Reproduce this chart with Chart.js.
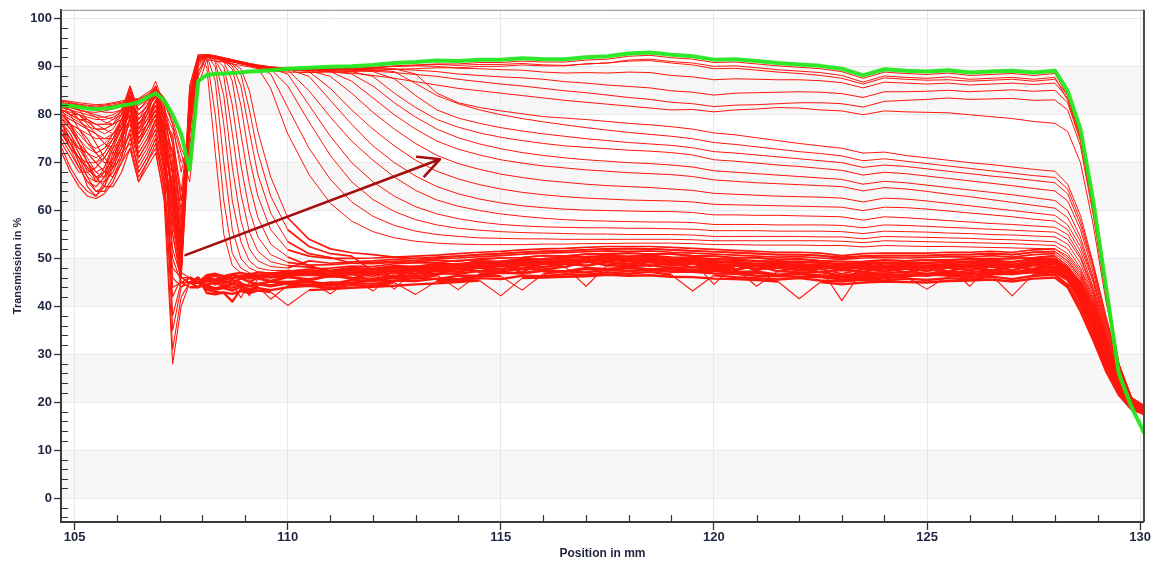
<!DOCTYPE html>
<html>
<head>
<meta charset="utf-8">
<title>Transmission vs position</title>
<script src="https://cdn.jsdelivr.net/npm/chart.js"></script>
<style>
  html, body { margin: 0; padding: 0; background: #fff; }
  canvas { display: block; }
</style>
</head>
<body>
<canvas id="tchart" width="1151" height="563"></canvas>
<script>
// sample positions in mm, shared by every trace
const positions = [104.7, 104.9, 105.1, 105.3, 105.5, 105.7, 105.9, 106.1, 106.3, 106.5, 106.7, 106.9, 107.1, 107.3, 107.5, 107.7, 107.9,
  108.1, 108.3, 108.5, 108.7, 108.9, 109.1, 109.3, 109.6, 110, 110.5, 111, 111.5, 112, 112.5, 113, 113.5, 114, 114.5, 115, 115.5, 116, 116.5,
  117, 117.5, 118, 118.5, 119, 119.5, 120, 120.5, 121, 121.5, 122, 122.5, 123, 123.5, 124, 124.5, 125, 125.5, 126, 126.5, 127, 127.5, 128,
  128.3, 128.6, 128.9, 129.2, 129.5, 129.8, 130.1];

// final scan (green)
const greenTrace = [82, 81.8, 81.6, 81.3, 81.2, 81.3, 81.5, 81.9, 82.2, 82.6, 83.6, 84.5, 83, 80, 76, 68.5, 87,
  88.3, 88.5, 88.6, 88.7, 88.8, 89, 89.1, 89.3, 89.6, 89.8, 90, 90.1, 90.4, 90.8, 91, 91.3, 91.2, 91.5, 91.5, 91.8, 91.6, 91.6, 92, 92.2, 92.8, 93, 92.5, 92.2, 91.5, 91.6, 91.2, 90.8, 90.5, 90.2, 89.6, 88.2, 89.5, 89.2, 89, 89.3, 88.8, 89, 89.2, 88.8, 89.2,
  85, 77, 62, 44, 26, 19, 13.5];

// late scans hugging the top
const top1 = [82.5, 82.3, 82, 81.8, 81.6, 81.8, 82, 82.4, 82.8, 83, 84, 85, 82.5, 78, 72, 66, 86,
  91.5, 91.2, 91, 90.6, 90.3, 90, 89.6, 89.4, 89.3, 89.3, 89.4, 89.5, 89.8, 90.2, 90.4, 90.6, 90.6, 90.9, 90.9, 91.2, 91, 91, 91.4, 91.6, 92.2, 92.4, 91.9, 91.6, 90.9, 91, 90.6, 90.2, 89.9, 89.6, 89, 87.6, 88.9, 88.6, 88.4, 88.7, 88.2, 88.4, 88.6, 88.2, 88.6,
  84, 76, 61, 44, 28, 20, 17];
const top2 = [82, 81.5, 81, 80.6, 80.5, 80.8, 81.2, 81.8, 83, 82, 83, 84, 82, 74, 62, 72, 89,
  92, 91.8, 91.4, 91, 90.6, 90.2, 89.8, 89.2, 88.9, 88.8, 88.9, 89, 89.2, 89.5, 89.6, 89.8, 89.8, 90.1, 90.1, 90.4, 90.2, 90.2, 90.6, 90.8, 91.4, 91.6, 91.1, 90.8, 90.1, 90.2, 89.8, 89.4, 89.1, 88.8, 88.2, 86.8, 88.1, 87.8, 87.6, 87.9, 87.4, 87.6, 87.8, 87.4, 87.8,
  83, 75, 60, 43, 28, 20, 17.5];

const upper1 = [82.2, 82, 81.7, 81.5, 81.3, 81.5, 81.8, 82.2, 82.6, 82.8, 83.8, 84.8, 82.8, 79, 73, 69, 88,
  92.2, 92, 91.6, 91.2, 90.8, 90.4, 90.1, 89.8, 89.5, 89.4, 89.5, 89.6, 89.8, 90.1, 90.3, 90.5, 90.3, 90.5, 90.5, 90.7, 90.4, 90.3, 90.6, 90.8, 91.2, 91.3, 90.8, 90.4, 89.6, 89.7, 89.3, 88.9, 88.6, 88.2, 87.6, 86.4, 87.7, 87.4, 87.2, 87.3, 87, 87.2, 87.4, 87, 87.4,
  84, 76, 61, 43.5, 28, 20.5, 17.5];
const upper2 = [82.8, 82.5, 82.2, 82, 81.8, 82, 82.3, 82.6, 83, 83.2, 84.2, 85.3, 83.4, 80, 75, 71, 89,
  92.4, 92.1, 91.7, 91.3, 90.9, 90.5, 90.2, 89.9, 89.6, 89.5, 89.6, 89.7, 89.9, 90.1, 90.2, 90.1, 89.7, 89.6, 89.4, 89.3, 88.9, 88.7, 88.8, 88.7, 88.9, 88.8, 88.2, 87.9, 87.3, 87.5, 87.4, 87.3, 87.3, 87.1, 86.7, 85.6, 86.8, 86.6, 86.4, 86.6, 86.2, 86.4, 86.6, 86.3, 86.6,
  83.5, 75.5, 60.5, 43, 28, 20.5, 17.8];
const upper3 = [81.5, 81, 80.5, 80, 79.5, 79.5, 80, 81, 84, 81, 82.5, 84, 81, 77, 70, 73, 90,
  92.5, 92.2, 91.8, 91.4, 91, 90.6, 90.3, 90, 89.7, 89.6, 89.6, 89.6, 89.6, 89.5, 89.3, 89, 88.5, 88.2, 87.9, 87.7, 87.4, 86.9, 86.6, 86.2, 85.9, 85.6, 85, 84.7, 84.1, 84.5, 84.6, 84.7, 84.8, 84.7, 84.4, 83.6, 84.8, 84.8, 84.9, 85.1, 84.8, 85, 85.2, 84.9, 85.1,
  82.5, 74.5, 60, 42.5, 28, 20.8, 18];
const upper4 = [83, 82.8, 82.5, 82.3, 82.1, 82.2, 82.5, 82.9, 83.2, 83.4, 84.6, 85.6, 83.6, 78, 68, 76, 90.5,
  92.6, 92.3, 91.9, 91.5, 91.1, 90.7, 90.4, 90, 89.7, 89.5, 89.4, 89.3, 89.1, 88.8, 88.4, 88, 87.4, 86.9, 86.4, 86, 85.5, 85, 84.6, 84.1, 83.6, 83.2, 82.6, 82.3, 81.7, 82, 82.1, 82.3, 82.5, 82.5, 82.3, 81.6, 82.8, 83, 83.2, 83.5, 83.2, 83.3, 83.4, 83, 83.1,
  81, 73.5, 59, 42, 28, 21, 18.2];
const upper5 = [81, 80.5, 80, 79.5, 79, 79, 79.5, 80.5, 83, 80, 81.5, 83.5, 80, 75, 64, 79, 91,
  92.6, 92.3, 91.9, 91.5, 91.1, 90.7, 90.3, 89.9, 89.5, 89.2, 89, 88.7, 88.2, 87.6, 86.9, 86.2, 85.5, 85, 84.5, 84, 83.5, 83, 82.6, 82.2, 81.8, 81.4, 81, 81.1, 80.6, 81, 81.2, 81.5, 81.4, 81, 80.8, 80, 80.8, 80.6, 80.5, 80.4, 80, 79.6, 79.2, 78.6, 78.2,
  76.5, 70, 57, 41, 28, 21, 18.5];

// intermediate scans, long sloping decay
const slope1 = [82, 81.5, 81, 80.5, 80, 79.5, 79, 80, 84, 79, 81, 84, 79, 72, 60, 80, 91.5,
  92.4, 92, 91.6, 91.2, 90.8, 90.4, 90.1, 89.8, 89.5, 89.4, 89.4, 89.5, 89.6, 89.6, 88.5, 84.5, 82.5, 81.5, 80.8, 80.2, 79.6, 79.3, 79, 78.6, 78.2, 77.9, 77.5, 77, 76.2, 75.8, 75.2, 74.6, 74, 73.5, 73, 72, 72.2, 71.5, 71, 70.5, 70, 69.6, 69.1, 68.6, 68.2,
  65.5, 59, 49, 38, 28, 21, 18];
const slope2 = [80, 78, 76, 74, 73, 74, 76, 79, 83, 78, 80, 83, 77, 68, 55, 81, 92,
  92.5, 92.1, 91.7, 91.3, 90.9, 90.5, 90.2, 89.9, 89.6, 89.5, 89.5, 89.5, 89.4, 89, 86.5, 84, 82.3, 81, 80, 79.2, 78.5, 77.9, 77.3, 76.8, 76.3, 75.9, 75.5, 75, 74.2, 73.8, 73.3, 72.8, 72.3, 71.9, 71.4, 70.4, 70.8, 70.3, 69.8, 69.3, 68.8, 68.3, 67.8, 67.3, 66.9,
  64.5, 58, 48.5, 37.5, 28, 21, 18.2];
const slope3 = [82.5, 82, 81, 79, 77, 76, 77, 80, 86, 80, 82, 85, 80, 74, 58, 79, 91.5,
  92.3, 91.9, 91.5, 91.1, 90.7, 90.3, 90, 89.7, 89.4, 89.3, 89.3, 89.3, 89, 87.5, 84, 81, 79.3, 78.2, 77.3, 76.6, 76, 75.5, 75, 74.6, 74.2, 73.9, 73.6, 73.1, 72.3, 72, 71.6, 71.2, 70.8, 70.4, 70, 69, 69.5, 69.2, 68.7, 68.2, 67.7, 67.2, 66.8, 66.3, 65.8,
  63.5, 57, 48, 37, 27.5, 21, 18];
const slope4 = [79, 77, 74, 72, 71, 72, 75, 79, 82, 75, 78, 81, 73, 65, 52, 82, 92,
  92.4, 92, 91.6, 91.2, 90.8, 90.4, 90.1, 89.8, 89.5, 89.3, 89.2, 89, 88, 84.5, 81.5, 79, 77.4, 76.2, 75.3, 74.6, 74, 73.5, 73.2, 72.9, 72.6, 72.4, 72.1, 71.6, 70.6, 70.3, 69.9, 69.5, 69.2, 68.8, 68.4, 67.4, 68, 67.7, 67.2, 66.7, 66.2, 65.7, 65.2, 64.6, 64.1,
  62, 56, 47, 36.5, 27.5, 20.8, 18.3];
const slope5 = [81.5, 81, 80, 78.5, 77, 77, 78, 81, 85, 81, 83, 86, 81, 70, 54, 80, 91.5,
  92.3, 91.9, 91.5, 91.1, 90.7, 90.3, 90, 89.7, 89.4, 89.2, 89, 88.5, 86, 82.5, 79.5, 77, 75.2, 73.9, 72.9, 72.1, 71.5, 71, 70.6, 70.3, 70, 69.8, 69.5, 69.1, 68.3, 68, 67.7, 67.4, 67.1, 66.8, 66.5, 65.5, 66.1, 65.8, 65.3, 64.8, 64.3, 63.8, 63.3, 62.7, 62.1,
  60, 54.5, 46, 36, 27, 20.7, 18.1];
const slope6 = [80, 79, 78, 77, 76, 75, 75, 77, 80, 74, 77, 80, 72, 66, 51, 83, 92,
  92.4, 92, 91.6, 91.2, 90.8, 90.4, 90.1, 89.8, 89.5, 89.3, 89, 87, 83.5, 80, 77, 74.5, 72.8, 71.6, 70.6, 69.9, 69.3, 68.9, 68.5, 68.2, 67.9, 67.7, 67.5, 67.1, 66.4, 66.1, 65.8, 65.6, 65.4, 65.2, 65, 64.1, 64.8, 64.5, 64, 63.4, 62.9, 62.3, 61.7, 61.1, 60.5,
  58.5, 53.5, 45.5, 35.5, 27, 20.5, 18.4];
const slope7 = [83, 82.5, 82, 81.5, 81, 80.5, 80.5, 81, 82, 78, 80, 82, 78, 76, 62, 78, 91.5,
  92.5, 92.1, 91.7, 91.3, 90.9, 90.5, 90.2, 89.9, 89.5, 89.2, 88, 84.5, 80.5, 77, 74, 71.5, 69.8, 68.6, 67.6, 66.9, 66.3, 65.9, 65.5, 65.2, 65, 64.8, 64.5, 64.2, 63.6, 63.4, 63.2, 63, 62.9, 62.8, 62.6, 61.8, 62.6, 62.4, 62, 61.5, 61, 60.5, 60, 59.5, 59,
  57, 52.5, 45, 35, 26.5, 20.5, 18.2];
const slope8 = [78, 75, 72, 69, 67, 68, 71, 76, 81, 75, 78, 82, 75, 63, 50, 81, 92,
  92.3, 91.9, 91.5, 91.1, 90.7, 90.3, 90, 89.7, 89.4, 89, 85.5, 81, 77, 73.5, 70.5, 68.2, 66.6, 65.4, 64.5, 63.8, 63.3, 62.9, 62.6, 62.4, 62.2, 62.1, 62, 61.8, 61.3, 61.2, 61.1, 61, 60.9, 60.8, 60.7, 60, 60.7, 60.6, 60.3, 59.9, 59.5, 59.1, 58.7, 58.2, 57.8,
  56, 51.5, 44, 34.5, 26, 20.3, 18.5];
const slope9 = [81, 80, 79, 78.5, 78, 78, 79, 81, 86, 81, 83, 87, 82, 68, 53, 82, 92,
  92.4, 92, 91.6, 91.2, 90.8, 90.4, 90.1, 89.8, 89.5, 88, 83, 78, 73.5, 70, 67.2, 65, 63.5, 62.4, 61.6, 61, 60.6, 60.3, 60.1, 60, 59.9, 59.8, 59.8, 59.6, 59.1, 59.1, 59, 59, 58.9, 58.8, 58.7, 58, 58.7, 58.5, 58.2, 57.9, 57.6, 57.3, 57.1, 56.8, 56.5,
  55, 50.5, 43.5, 34, 26, 20.2, 18.2];
const slope10 = [79.5, 77.5, 75, 73, 72, 73, 76, 79, 84, 78, 81, 84, 77, 64, 49, 80, 91.5,
  92.5, 92.1, 91.7, 91.3, 90.9, 90.5, 90.2, 89.9, 89.3, 85, 79.5, 74.5, 70.5, 67, 64.2, 62.2, 60.9, 60, 59.3, 58.8, 58.4, 58.1, 57.9, 57.8, 57.7, 57.6, 57.6, 57.5, 57.1, 57.1, 57.1, 57, 57, 57, 56.9, 56.4, 57, 56.9, 56.7, 56.5, 56.3, 56.1, 55.9, 55.7, 55.5,
  54, 50, 43, 34, 26, 20.3, 18.6];
const slope11 = [82, 81.5, 81, 80.5, 79.5, 78.5, 78, 79, 81, 76, 78, 81, 74, 73, 57, 84, 92,
  92.3, 91.9, 91.5, 91.1, 90.7, 90.3, 90, 89.6, 88.5, 82, 75.5, 70, 66, 63, 60.8, 59.3, 58.3, 57.6, 57.1, 56.8, 56.6, 56.5, 56.4, 56.4, 56.3, 56.3, 56.2, 56.1, 55.8, 55.8, 55.8, 55.7, 55.7, 55.7, 55.6, 55.2, 55.7, 55.6, 55.5, 55.3, 55.2, 55, 54.9, 54.7, 54.5,
  53, 49, 42.5, 33.5, 25.5, 20, 18.3];
const slope12 = [77, 74, 71, 68.5, 67, 68, 71, 75, 79, 72, 75, 79, 69, 61, 48, 79, 91.5,
  92.4, 92, 91.6, 91.2, 90.8, 90.4, 90.1, 89.5, 86, 78.5, 71.5, 66, 62.3, 59.8, 58.1, 57, 56.3, 55.9, 55.6, 55.4, 55.3, 55.2, 55.1, 55.1, 55, 55, 55, 54.9, 54.6, 54.6, 54.6, 54.6, 54.6, 54.5, 54.5, 54.1, 54.6, 54.5, 54.4, 54.3, 54.2, 54, 53.9, 53.7, 53.5,
  52, 48, 42, 33, 25.5, 20, 18.5];
const slope13 = [80.5, 79.5, 78.5, 77.5, 77, 77, 78, 80, 84, 79, 81, 84, 79, 67, 52, 83, 92,
  92.3, 91.9, 91.5, 91.1, 90.7, 90.3, 90, 88.5, 81.5, 73, 66.5, 61.8, 58.8, 56.9, 55.7, 55, 54.6, 54.3, 54.2, 54.1, 54.1, 54, 54, 54, 54, 54, 54, 53.9, 53.7, 53.7, 53.7, 53.7, 53.7, 53.7, 53.6, 53.3, 53.7, 53.6, 53.5, 53.4, 53.3, 53.2, 53.1, 52.9, 52.7,
  51, 47.5, 41.5, 33, 25, 20, 18.2];
const slope14 = [78.5, 76, 73, 70, 68, 69, 73, 77, 82, 76, 79, 83, 76, 62, 47, 81, 92,
  92.5, 92.1, 91.7, 91.3, 90.9, 90.5, 89.8, 85.5, 76, 67.5, 61.5, 57.8, 55.6, 54.3, 53.6, 53.2, 53, 52.9, 52.9, 52.9, 53, 53, 53.1, 53.1, 53.2, 53.2, 53.2, 53.1, 52.9, 52.9, 52.8, 52.8, 52.8, 52.7, 52.7, 52.4, 52.7, 52.6, 52.5, 52.5, 52.4, 52.3, 52.2, 52.1, 52,
  50.5, 47, 41, 32.5, 25, 19.8, 18.4];

// early scans, steep front just behind the edge
const front1 = [79, 77, 74, 71, 68, 67, 69, 73, 79, 71, 74, 79, 70, 62, 48, 78, 91.5,
  90, 72, 55, 48.5, 47, 46.5, 46.5, 46.5, 47,
  47, 47.4, 47.1, 47.8, 47.9, 48.4, 47.9, 48.5, 48.9, 49.4, 49.1, 49.8, 49.4, 50, 50.4, 49.9, 50.3, 49.6, 49.9, 49.3, 49.4, 48.9, 49.2, 49, 48.3, 48.5, 48.2, 48.9, 48.7, 48.9, 48.6, 48.9, 49.3, 48.7, 49.5, 49.5,
  47.5, 43.5, 37.5, 30.5, 24, 20, 18.5];
const front2 = [80, 79, 78, 77, 76, 74, 72, 72, 76, 68, 71, 75, 67, 58, 47, 82, 92,
  92, 80, 62, 51, 48, 47, 46.5, 46.8, 47,
  47, 46.2, 46.6, 46.3, 47.1, 46.8, 47.5, 47.3, 48.2, 47.7, 48.6, 48.2, 48.9, 48.5, 49.3, 48.7, 49.2, 48.5, 48.9, 48, 48.5, 47.7, 48.1, 47.5, 47.9, 46.8, 47.8, 47.3, 47.9, 47.4, 48.1, 47.5, 48.3, 47.6, 48.6, 48.2,
  46.5, 42.5, 36.5, 29.5, 23, 19.5, 18];
const front3 = [77, 73, 69, 66, 64, 65, 70, 75, 83, 74, 78, 82, 74, 55, 46, 76, 91,
  92.5, 87, 70, 56, 50, 48, 47.2, 47, 47.3,
  47.8, 48, 48.4, 48.3, 48.9, 49.1, 49.1, 49.6, 49.7, 50.1, 50.2, 50.6, 50.5, 50.9, 51, 51.1, 50.9, 50.9, 50.5, 50.5, 50.1, 50.1, 49.7, 49.9, 49.5, 49.3, 49.4, 49.7, 49.5, 49.7, 49.7, 49.9, 50, 49.9, 50.2, 50.6,
  48.5, 45, 39.5, 32, 25, 20.5, 19];
const front4 = [81, 80, 80, 79, 78, 77, 76, 77, 80, 73, 76, 80, 72, 66, 49, 84, 92.5,
  92.5, 90, 78, 62, 53.5, 49.5, 48, 47.5, 47.5,
  46.8, 46.3, 46.9, 45.2, 47.3, 47.4, 46.5, 48, 48.2, 48.6, 47.2, 49, 49.1, 49.3, 49.5, 48.6, 49.5, 49.3, 49.1, 48.9, 47.5, 48.5, 48.3, 48.2, 48.1, 45.2, 48, 48.1, 48.1, 46.4, 48.3, 48.4, 48.5, 48.2, 48.8, 49,
  47, 43, 37, 30, 23.5, 19.5, 18.2];
const front5 = [78, 76, 72, 68, 66, 68, 73, 78, 85, 77, 80, 85, 77, 60, 47, 80, 92,
  92.3, 91, 84, 69, 58, 52, 49.5, 48.3, 48,
  49.5, 49, 49.3, 49.5, 49.8, 50, 50.2, 50.5, 50.8, 51, 51.3, 51.5, 51.6, 51.8, 52, 52, 52, 51.8, 51.6, 51.4, 51.2, 51, 50.8, 50.8, 50.6, 50.3, 50.5, 50.6, 50.6, 50.6, 50.8, 50.8, 51, 50.8, 51.3, 51.5,
  49.5, 46, 40.5, 33, 25.5, 21, 19.2];
const front6 = [82, 81, 80, 78, 76, 74, 73, 75, 78, 71, 74, 77, 69, 70, 50, 85, 92,
  92.2, 91.5, 88, 76, 63.5, 55.5, 51.5, 49.3, 48.5,
  48.2, 47.5, 48.1, 47.9, 48.5, 48.3, 49, 48.8, 49.5, 49.3, 50, 49.8, 50.3, 50.1, 50.7, 50.3, 50.6, 50.1, 50.3, 49.7, 49.9, 49.3, 49.5, 49.1, 49.3, 48.6, 49.2, 48.9, 49.3, 48.9, 49.4, 49.1, 49.6, 49.2, 49.9, 49.8,
  48, 44, 38, 31, 24, 20, 18.6];
const front7 = [76, 73, 71, 70, 70, 72, 75, 78, 82, 75, 78, 81, 73, 57, 46, 78, 91.5,
  92.4, 91.6, 90, 82, 69.5, 60, 54.5, 50.8, 49.2,
  48.6, 48.7, 49, 49.2, 49.4, 49.6, 49.9, 50.1, 50.4, 50.6, 50.9, 51.1, 51.2, 51.4, 51.6, 51.5, 51.6, 51.3, 51.1, 50.9, 50.7, 50.5, 50.3, 50.4, 50.1, 49.8, 50.1, 50.2, 50.1, 50.2, 50.4, 50.3, 50.6, 50.3, 50.8, 51,
  49, 45.5, 40, 32.5, 25, 20.5, 19];
const front8 = [80, 78, 75, 72, 70, 71, 74, 77, 84, 78, 81, 86, 79, 64, 48, 83, 92,
  92.3, 91.8, 91, 87, 76, 65.5, 58.5, 53, 50.3,
  48.5, 47.2, 47.6, 47.2, 48, 47.6, 48.5, 48.2, 49, 48.6, 49.5, 49.2, 49.7, 49.4, 50.1, 49.6, 50, 49.5, 49.7, 49, 49.3, 48.6, 48.9, 48.5, 48.7, 48, 48.6, 48.3, 48.7, 48.3, 48.9, 48.5, 49.1, 48.6, 49.4, 49.2,
  47.5, 43.5, 37.5, 30.5, 23.5, 19.8, 18.3];
const front9 = [79, 78, 77, 76, 75, 75, 76, 78, 80, 74, 77, 80, 71, 68, 52, 86, 92.5,
  92.5, 92, 91.2, 89.5, 82, 71, 63, 56, 51.8,
  50.5, 50, 50, 50.1, 50.3, 50.5, 50.7, 51, 51.3, 51.5, 51.8, 52, 52.1, 52.3, 52.5, 52.5, 52.5, 52.3, 52.1, 51.9, 51.7, 51.5, 51.3, 51.3, 51.1, 50.6, 51, 51.1, 51.1, 51.1, 51.3, 51.3, 51.5, 51.3, 51.8, 52,
  50, 46.5, 41, 33.5, 26, 21, 19.3];
const front10 = [82, 80, 77, 74, 72, 73, 75, 79, 83, 76, 79, 83, 75, 63, 49, 82, 92,
  92.2, 91.8, 91.2, 90.2, 86, 76.5, 67.5, 59.5, 53.5,
  51, 50.2, 49, 48.9, 49.2, 49.3, 49.6, 49.4, 50, 50.1, 50.2, 50.6, 50.5, 50.9, 50.8, 51.1, 50.9, 51, 50.6, 50.5, 50.2, 50.2, 49.8, 49.9, 49.5, 49.4, 49.2, 49.6, 49.5, 49.7, 49.6, 49.9, 49.7, 50.1, 50.1, 50.5,
  48.5, 44.5, 39, 31.5, 24.5, 20.2, 18.7];
const front11 = [78, 74, 70, 67, 66, 69, 74, 79, 85, 79, 82, 86, 80, 59, 47, 80, 92,
  92.4, 92, 91.4, 90.6, 88.5, 81, 72, 63, 56,
  52.5, 51, 50.5, 47.3, 47.4, 47.9, 47.5, 48.4, 48.5, 48.8, 47, 49.4, 49.3, 49.7, 49.8, 49.6, 50, 49.8, 49.2, 49.5, 49, 47.4, 48.9, 48.6, 48.5, 48.4, 48.1, 48.2, 48.5, 48.2, 48.5, 48.7, 48.6, 48.8, 48.6, 49.3,
  47, 43, 37, 30, 23.5, 19.6, 18.1];
const front12 = [81, 80, 79, 79, 78, 78, 78, 79, 81, 77, 79, 82, 76, 72, 55, 86, 92.5,
  92.3, 91.9, 91.3, 90.7, 89.6, 85, 76.5, 67, 58.5,
  54, 52, 51.2, 50.8, 50.3, 50, 50.3, 50.5, 50.8, 51, 51.3, 51.5, 51.6, 51.8, 52, 52.1, 52, 51.8, 51.6, 51.4, 51.2, 51, 50.8, 50.8, 50.6, 50, 50.5, 50.6, 50.6, 50.6, 50.8, 50.8, 51, 50.8, 51.3, 51.4,
  49.5, 46, 40.5, 33, 25.5, 20.8, 19];

// first scans, collapsed to the low plateau
const band1 = [73, 69, 66, 64, 63, 65, 69, 73, 76, 68, 71, 75, 64, 48, 46, 46, 45,
  44.5, 43.5, 44.2, 44.6, 44.8, 44.2, 44.7, 44.4, 45,
  45.2, 44.6, 45.5, 45.3, 46, 45.8, 46.5, 43.5, 46.8, 47.2, 46.9, 47.6, 47.3, 48, 47.8, 48.2, 47.7, 48, 47.6, 47.8, 47.2, 47.3, 46.6, 46.9, 46.5, 46.2, 46.8, 46.4, 46.7, 46.4, 47, 46.6, 47.2, 46.7, 47.4, 47.6,
  46, 42, 36, 29, 23, 19.5, 18];
const band2 = [76, 74, 71, 67, 64, 64, 67, 71, 80, 72, 75, 79, 70, 35, 44, 46, 45,
  45.2, 45.6, 44.8, 45.5, 45, 42.2, 45.8, 45.3, 46.1,
  45.7, 46.3, 46, 43.2, 47, 46.8, 47.5, 47.2, 48.1, 47.7, 48.6, 48.2, 48.9, 48.5, 49.2, 48.8, 49.3, 48.6, 48.9, 48.2, 48.5, 47.8, 48.1, 47.6, 47.9, 41.2, 47.8, 47.3, 47.9, 47.4, 48.1, 47.6, 48.3, 47.5, 48.6, 48.3,
  47, 44, 38, 31, 24, 20, 18.5];
const band3 = [79, 77, 74, 70, 66, 66, 68, 72, 74, 67, 70, 73, 62, 28, 40, 45, 46,
  43.5, 43, 42.8, 41, 43.6, 43.2, 43.8, 43.4, 44,
  44.3, 43.8, 44.5, 44.2, 45, 42.5, 45.3, 45.4, 45.9, 45.7, 46.4, 46.3, 46.7, 46.6, 47.1, 46.8, 47.2, 46.6, 43.2, 46.5, 46.1, 45.9, 45.6, 45.9, 45.4, 45.2, 45.6, 45.4, 45.8, 45.5, 45.9, 45.6, 46.2, 45.7, 46.4, 46.6,
  44.5, 40, 34, 27, 22, 19, 17.5];
const band4 = [80, 78, 77, 75, 72, 70, 70, 73, 84, 76, 80, 85, 75, 55, 45, 45, 44,
  46, 46.4, 45.7, 46.5, 46.2, 46.8, 46.3, 46.9, 46.6,
  47.2, 46.8, 47.5, 47.2, 48, 47.7, 48.4, 48.3, 48.9, 48.8, 49.5, 49.3, 49.8, 49.6, 50.1, 49.8, 50.1, 49.6, 49.8, 49.2, 49.4, 48.8, 49, 48.6, 48.8, 48.1, 48.7, 48.4, 48.8, 48.4, 48.9, 48.6, 49.2, 48.6, 49.4, 49.6,
  47.5, 44.5, 39, 32, 25, 20.5, 19];
const band5 = [72, 68, 65, 63, 62.5, 63.5, 66, 70, 73, 66, 69, 72, 63, 42, 46, 45, 45,
  44, 43.5, 43.8, 43.3, 44.1, 43.6, 44.2, 41.5, 44.4,
  44.6, 44.3, 44.9, 44.7, 45.4, 45.3, 45.8, 45.7, 46.4, 46.3, 43.4, 46.8, 47.3, 47.1, 47.6, 47.4, 47.6, 47.2, 47.2, 46.9, 46.8, 46.4, 46.3, 46.2, 46.1, 45.6, 46, 45.9, 46.2, 43.6, 46.4, 46.1, 46.6, 42.2, 46.8, 47.1,
  45.5, 41, 35, 28, 22.5, 19, 18];
const band6 = [82, 81, 79, 77, 74, 71, 69, 71, 77, 70, 73, 77, 68, 60, 47, 46, 45,
  45.8, 45.3, 45.6, 45.9, 46.2, 45.8, 46.3, 46, 46.4,
  46.6, 46.4, 46.9, 46.8, 47.5, 47.3, 47.9, 47.8, 48.5, 48.3, 48.9, 48.8, 49.3, 49.2, 49.7, 49.4, 49.6, 49.1, 49.2, 48.7, 48.8, 48.3, 48.4, 48.1, 48.2, 47.7, 48.1, 47.9, 48.2, 47.9, 48.4, 48.1, 48.6, 48.2, 48.9, 49,
  47, 43, 37.5, 30, 23.5, 20, 18.5];
const band7 = [75, 72, 69, 66, 65, 67, 72, 76, 79, 71, 74, 78, 72, 50, 45, 44, 44,
  44.6, 44.9, 44.3, 44.8, 41.8, 45, 44.7, 45.2, 45.1,
  45.4, 42.6, 45.9, 45.8, 46.4, 46.3, 46.9, 46.8, 47.4, 47.3, 47.9, 47.7, 48.3, 44.2, 48.6, 48.4, 48.6, 48.1, 48.2, 47.8, 47.9, 44.2, 47.4, 47.1, 47.2, 46.4, 47, 46.9, 47.2, 46.8, 47.3, 47.1, 47.6, 47.1, 47.8, 48,
  46, 42.5, 36.5, 29.5, 23, 19.5, 17.8];
const band8 = [78, 75, 70, 65, 63, 66, 71, 75, 86, 77, 81, 86, 78, 38, 45, 46, 45,
  46.5, 46.8, 46.3, 46.7, 47, 46.6, 47.1, 46.8, 47.3,
  47.5, 47.3, 47.8, 47.7, 48.3, 48.2, 48.7, 48.8, 49.3, 49.4, 49.8, 49.9, 50.2, 50.3, 50.5, 50.4, 50.6, 50.2, 50.1, 49.9, 49.7, 49.5, 49.3, 49.4, 49.1, 48.8, 49, 49.1, 49.1, 49.1, 49.3, 49.4, 49.5, 49.3, 49.8, 50,
  48, 45, 39.5, 32.5, 25, 20.5, 19.2];
const band9 = [77, 75, 73, 72, 70, 68, 67, 70, 75, 69, 72, 76, 66, 46, 44, 45, 46,
  42.8, 42.5, 42.9, 42.6, 43.2, 42.8, 43.3, 43, 40.2,
  43.4, 43.6, 43.9, 44.1, 44.3, 44.6, 44.8, 45.1, 45.4, 42.2, 45.9, 46, 46.2, 46.3, 46.6, 46.4, 46.5, 46.2, 46.1, 45.8, 45.7, 45.5, 45.2, 41.6, 45.1, 44.6, 45, 45.2, 45.1, 45, 45.3, 45.4, 45.6, 45.2, 45.8, 46,
  44, 39, 33, 26.5, 21.5, 18.5, 17.5];
const band10 = [74, 71, 68, 68, 69, 71, 74, 77, 81, 74, 77, 81, 74, 52, 46, 45, 45,
  45.5, 44.6, 45.4, 44.8, 45.9, 45.1, 46, 45.2, 46.2,
  45.4, 46.5, 45.8, 47, 46.2, 47.5, 46.7, 48, 47.2, 48.6, 47.8, 49.1, 48.2, 49.4, 48.5, 49.5, 48.4, 49.2, 48.1, 48.9, 47.7, 48.5, 47.3, 48.2, 47.1, 47.6, 47.2, 48, 47.1, 48.1, 47.3, 48.3, 47.4, 48.3, 47.8, 48.9,
  46.5, 43, 37, 30, 23.5, 19.8, 18.3];
const band11 = [81, 78, 74, 70, 67, 67, 70, 74, 82, 75, 78, 83, 76, 44, 45, 46, 45,
  46, 45.6, 46.2, 45.8, 46.4, 46.1, 46.5, 46.2, 46.7,
  46.9, 46.6, 47.2, 47.1, 43.6, 47.9, 48, 48.4, 48.5, 48.9, 49.1, 49.2, 49.5, 49.5, 49.8, 49.7, 49.9, 49.4, 49.5, 44.6, 48.9, 48.8, 48.5, 48.6, 48.3, 48, 48.3, 48.4, 48.3, 48.4, 48.5, 44.2, 48.8, 48.5, 49.1, 49.3,
  47.5, 44, 38.5, 31, 24, 20.2, 18.8];
const band12 = [76, 73, 71, 69, 67, 65, 65, 68, 73, 66, 70, 74, 65, 31, 42, 45, 45,
  44.2, 43.8, 44.1, 43.9, 44.5, 44.3, 44.6, 44.2, 44.8,
  44.5, 45, 44.9, 45.5, 45.3, 46, 45.7, 46.4, 46.4, 47, 46.9, 47.4, 47.3, 47.8, 47.6, 48, 47.7, 47.7, 47.3, 47.4, 46.9, 47, 46.5, 46.8, 46.2, 46.1, 46.3, 46.5, 46.3, 46.6, 46.5, 46.7, 46.7, 46.8, 47.1, 47.4,
  45.5, 41.5, 35.5, 28.5, 22.5, 19.2, 18];

const bandTraces = [band1, band2, band3, band4, band5, band6, band7, band8, band9, band10, band11, band12];
const frontTraces = [front1, front2, front3, front4, front5, front6, front7, front8, front9, front10, front11, front12];
const otherTraces = [
  slope14, slope13, slope12, slope11, slope10, slope9, slope8, slope7, slope6, slope5, slope4, slope3, slope2, slope1,
  upper5, upper4, upper3, upper2, upper1, top2, top1
];

const xTicks = [105, 110, 115, 120, 125, 130];
const yTicks = [0, 10, 20, 30, 40, 50, 60, 70, 80, 90, 100];
const shadedBands = [[0, 10], [20, 30], [40, 50], [60, 70], [80, 90]];

// arrow showing the direction of the moving front (mm, %)
const arrowFrom = [107.6, 50.7];
const arrowTo = [113.57, 70.7];

const inkColor = '#1f2540';
const axisColor = '#333';
const red = 'rgb(255, 22, 12)';

function toPoints(values) {
  return positions.map(function (x, i) { return { x: x, y: values[i] }; });
}

var datasets = [{
  data: toPoints(greenTrace),
  borderColor: 'rgba(34, 232, 30, 0.95)',
  borderWidth: 4,
  order: 0
}];
bandTraces.forEach(function (t) {
  // single-sample drop-outs stay thin, the plateau itself is drawn heavier
  function isDip(i) { return i > 0 && i < t.length - 1 && t[i] < Math.min(t[i - 1], t[i + 1]) - 2; }
  datasets.push({
    data: toPoints(t), borderColor: red, borderWidth: 2.4, order: 1,
    segment: {
      borderWidth: function (c) {
        return (c.p0.parsed.x < 107.6 || isDip(c.p0DataIndex) || isDip(c.p1DataIndex)) ? 1.1 : undefined;
      }
    }
  });
});
frontTraces.forEach(function (t) {
  datasets.push({
    data: toPoints(t), borderColor: red, borderWidth: 1, order: 1,
    segment: { borderWidth: function (c) { return c.p0.parsed.x >= 110 && c.p0.parsed.x < 128 ? 1.7 : 1; } }
  });
});
otherTraces.forEach(function (t) {
  datasets.push({ data: toPoints(t), borderColor: red, borderWidth: 1, order: 1 });
});

// white background and the alternating grey stripes
var stripes = {
  id: 'stripes',
  beforeDraw: function (chart) {
    var ctx = chart.ctx, a = chart.chartArea, y = chart.scales.y;
    ctx.save();
    ctx.fillStyle = '#fff';
    ctx.fillRect(0, 0, chart.width, chart.height);
    ctx.fillStyle = '#f7f7f7';
    shadedBands.forEach(function (b) {
      var top = y.getPixelForValue(b[1]);
      var bottom = y.getPixelForValue(b[0]);
      ctx.fillRect(a.left, top, a.right - a.left, bottom - top);
    });
    ctx.restore();
  }
};

// inner minor ticks, frame and the arrow
var decorations = {
  id: 'decorations',
  afterDatasetsDraw: function (chart) {
    var ctx = chart.ctx, a = chart.chartArea, sx = chart.scales.x, sy = chart.scales.y;
    ctx.save();
    ctx.strokeStyle = axisColor;
    ctx.lineWidth = 1.2;
    ctx.beginPath();
    for (var v = 105; v <= 130; v++) {
      if (v % 5 === 0) continue;
      var px = Math.round(sx.getPixelForValue(v)) + 0.5;
      ctx.moveTo(px, a.bottom);
      ctx.lineTo(px, a.bottom - 7);
    }
    for (var w = -4; w <= 100; w += 2) {
      if (w % 10 === 0) continue;
      var py = Math.round(sy.getPixelForValue(w)) + 0.5;
      ctx.moveTo(a.left, py);
      ctx.lineTo(a.left + 7, py);
    }
    ctx.stroke();

    ctx.strokeStyle = '#8c8c8c';
    ctx.lineWidth = 1;
    ctx.beginPath();
    ctx.moveTo(a.left, a.top + 0.5);
    ctx.lineTo(a.right, a.top + 0.5);
    ctx.stroke();
    ctx.strokeStyle = '#4a4a4a';
    ctx.lineWidth = 2;
    ctx.beginPath();
    ctx.moveTo(a.right, a.top);
    ctx.lineTo(a.right, a.bottom);
    ctx.stroke();

    var x0 = sx.getPixelForValue(arrowFrom[0]), y0 = sy.getPixelForValue(arrowFrom[1]);
    var x1 = sx.getPixelForValue(arrowTo[0]), y1 = sy.getPixelForValue(arrowTo[1]);
    var back = Math.atan2(y0 - y1, x0 - x1);
    ctx.strokeStyle = '#a50d0d';
    ctx.lineWidth = 2.6;
    ctx.lineCap = 'round';
    ctx.lineJoin = 'round';
    ctx.beginPath();
    ctx.moveTo(x0, y0);
    ctx.lineTo(x1, y1);
    [-0.47, 0.47].forEach(function (d) {
      ctx.moveTo(x1, y1);
      ctx.lineTo(x1 + 23 * Math.cos(back + d), y1 + 23 * Math.sin(back + d));
    });
    ctx.stroke();
    ctx.restore();
  }
};

var tickFont = { family: 'Liberation Sans', size: 13, weight: 'bold' };
var titleFont = { family: 'Liberation Sans', size: 12, weight: 'bold' };

var ctx = document.getElementById('tchart').getContext('2d');
var chart = new Chart(ctx, {
  type: 'line',
  data: { datasets: datasets },
  options: {
    responsive: false,
    animation: false,
    devicePixelRatio: 1,
    layout: { padding: { top: 4, right: 7, left: 0, bottom: 0 } },
    plugins: { legend: { display: false }, tooltip: { enabled: false } },
    elements: {
      point: { radius: 0 },
      line: { tension: 0, borderJoinStyle: 'round' }
    },
    scales: {
      x: {
        type: 'linear',
        min: 104.68,
        max: 130.09,
        afterBuildTicks: function (s) { s.ticks = xTicks.map(function (v) { return { value: v }; }); },
        afterFit: function (s) { s.height = 41; },
        grid: { color: '#e8e8e8', lineWidth: 1, tickLength: 8, tickColor: axisColor, tickWidth: 1.3 },
        border: { color: '#3a3a3a', width: 2 },
        ticks: { font: tickFont, color: inkColor, padding: 0, maxRotation: 0, autoSkip: false },
        title: { display: true, text: 'Position in mm', font: titleFont, color: inkColor, padding: { top: 0, bottom: 2 } }
      },
      y: {
        type: 'linear',
        min: -5,
        max: 101.9,
        afterBuildTicks: function (s) { s.ticks = yTicks.map(function (v) { return { value: v }; }); },
        afterFit: function (s) { s.width = 61; },
        grid: { color: '#e8e8e8', lineWidth: 1, tickLength: 7, tickColor: axisColor, tickWidth: 1.3 },
        border: { color: '#3a3a3a', width: 2 },
        ticks: { font: tickFont, color: inkColor, padding: 2, autoSkip: false },
        title: { display: true, text: 'Transmission in %', font: { family: 'Liberation Sans', size: 11, weight: 'bold' }, color: inkColor, padding: { top: 11, bottom: 0 } }
      }
    }
  },
  plugins: [stripes, decorations]
});
</script>
</body>
</html>
